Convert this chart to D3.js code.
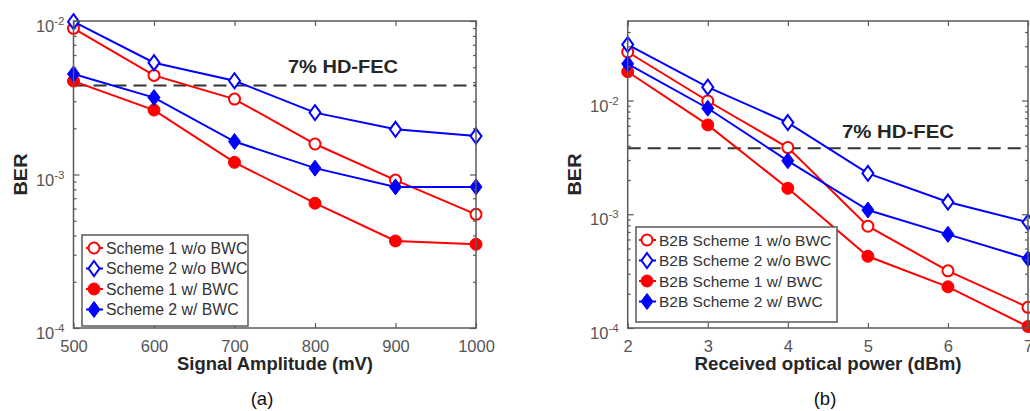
<!DOCTYPE html>
<html>
<head>
<meta charset="utf-8">
<script src="https://cdn.jsdelivr.net/npm/d3@7"></script>
<style>
  html, body { margin: 0; padding: 0; background: #fff; }
  svg { display: block; }
  text { font-family: "Liberation Sans", Arial, sans-serif; }
</style>
</head>
<body>
<svg id="fig" width="1030" height="411"></svg>
<script>
// ---- Panel (a): BER vs signal amplitude ----
const ampMV = [500, 600, 700, 800, 900, 1000];
const ampS1NoBWC = [8.96e-3, 4.42e-3, 3.1e-3, 1.58e-3, 9.2e-4, 5.5e-4];
const ampS2NoBWC = [9.9e-3, 5.35e-3, 4.08e-3, 2.53e-3, 1.97e-3, 1.78e-3];
const ampS1BWC   = [4.06e-3, 2.63e-3, 1.2e-3, 6.5e-4, 3.69e-4, 3.51e-4];
const ampS2BWC   = [4.52e-3, 3.17e-3, 1.64e-3, 1.1e-3, 8.3e-4, 8.3e-4];

// ---- Panel (b): BER vs received optical power ----
const powerDBm = [2, 3, 4, 5, 6, 7];
const b2bS1NoBWC = [2.67e-2, 9.9e-3, 3.86e-3, 7.85e-4, 3.18e-4, 1.52e-4];
const b2bS2NoBWC = [3.1e-2, 1.31e-2, 6.4e-3, 2.29e-3, 1.28e-3, 8.5e-4];
const b2bS1BWC   = [1.79e-2, 6.1e-3, 1.69e-3, 4.27e-4, 2.3e-4, 1.03e-4];
const b2bS2BWC   = [2.1e-2, 8.55e-3, 2.95e-3, 1.09e-3, 6.66e-4, 4.07e-4];

const fecThreshold = 3.8e-3;
const fecLabel = "7% HD-FEC";

const legendA = ["Scheme 1 w/o BWC", "Scheme 2 w/o BWC", "Scheme 1 w/ BWC", "Scheme 2 w/ BWC"];
const legendB = ["B2B Scheme 1 w/o BWC", "B2B Scheme 2 w/o BWC", "B2B Scheme 1 w/ BWC", "B2B Scheme 2 w/ BWC"];

const RED = "#ff0000", BLUE = "#0000ff", AXIS = "#5a5a5a", TICKTXT = "#555", TITLE = "#262626";

const svg = d3.select("#fig");

// marker drawing: open / filled circle or diamond
function drawMarker(g, kind, filled, color) {
  if (kind === "circle") {
    g.append("circle").attr("r", filled ? 6 : 5.5)
      .attr("fill", filled ? color : "#fff")
      .attr("stroke", color).attr("stroke-width", filled ? 1 : 2);
  } else {
    const w = filled ? 6 : 5.5, h = filled ? 8 : 7.5;
    g.append("path").attr("d", `M0,${-h}L${w},0L0,${h}L${-w},0Z`)
      .attr("fill", filled ? color : "#fff")
      .attr("stroke", color).attr("stroke-width", filled ? 1 : 2);
  }
}

// "10" with a superscript exponent for log-axis labels
function supLabel(sel) {
  sel.each(function(d) {
    const t = d3.select(this);
    const e = Math.round(Math.log10(d));
    t.text(null);
    t.append("tspan").text("10");
    t.append("tspan").attr("dy", -7).attr("font-size", 11.5).text(String(e));
  });
}

// stretch a text element horizontally by a factor of its natural width
function stretch(sel, f) {
  sel.each(function() {
    const w = this.getComputedTextLength();
    d3.select(this).attr("textLength", w * f).attr("lengthAdjust", "spacingAndGlyphs");
  });
}

function panel(opt) {
  const { x0, x1, y0, y1, xDomain, yDomain, xs, series, legendLabels, xTitle, caption,
          fecX, fecY, fecW, legendBox, legendX, legendFont, titleX, titleW, captionX } = opt;
  const x = d3.scaleLinear().domain(xDomain).range([x0, x1]);
  const y = d3.scaleLog().domain(yDomain).range([y1, y0]);
  const g = svg.append("g");

  // dashed FEC threshold
  g.append("line").attr("x1", x0).attr("x2", x1)
    .attr("y1", y(fecThreshold)).attr("y2", y(fecThreshold))
    .attr("stroke", "#333").attr("stroke-width", 2).attr("stroke-dasharray", "13,7");
  g.append("text").attr("x", fecX).attr("y", fecY)
    .attr("font-size", 17.5).attr("font-weight", "bold").attr("fill", TITLE)
    .attr("textLength", fecW).attr("lengthAdjust", "spacingAndGlyphs")
    .text(fecLabel);

  // series
  const line = d3.line().x((d, i) => x(xs[i])).y(d => y(d));
  series.forEach(s => {
    g.append("path").datum(s.values).attr("d", line)
      .attr("fill", "none").attr("stroke", s.color).attr("stroke-width", 2);
    s.values.forEach((v, i) => {
      const m = g.append("g").attr("transform", `translate(${x(xs[i])},${y(v)})`);
      drawMarker(m, s.kind, s.filled, s.color);
    });
  });

  // axes
  const majorY = [1e-4, 1e-3, 1e-2].filter(v => v >= yDomain[0] && v <= yDomain[1]);
  const minorY = [];
  for (let e = -4; e <= -2; e++) for (let k = 2; k <= 9; k++) {
    const v = k * Math.pow(10, e);
    if (v > yDomain[0] && v < yDomain[1]) minorY.push(v);
  }
  const styleAxis = a => {
    a.select(".domain").remove();
    a.selectAll(".tick line").attr("stroke", AXIS).attr("stroke-width", 1.2);
    a.selectAll(".tick text").attr("fill", TICKTXT).attr("font-size", 16.5)
      .attr("font-family", "Liberation Sans, Arial, sans-serif");
  };
  const xb = g.append("g").attr("transform", `translate(0,${y1})`)
    .call(d3.axisBottom(x).tickValues(xs).tickSizeInner(-5).tickSizeOuter(0).tickPadding(12).tickFormat(d3.format("d")));
  styleAxis(xb);
  const xt = g.append("g").attr("transform", `translate(0,${y0})`)
    .call(d3.axisTop(x).tickValues(xs).tickSizeInner(-5).tickSizeOuter(0).tickFormat(""));
  styleAxis(xt);
  const yl = g.append("g").attr("transform", `translate(${x0},0)`)
    .call(d3.axisLeft(y).tickValues(majorY).tickSizeInner(-6).tickSizeOuter(0).tickPadding(9));
  styleAxis(yl);
  yl.selectAll(".tick text").call(supLabel).attr("dy", "0.65em");
  const ylm = g.append("g").attr("transform", `translate(${x0},0)`)
    .call(d3.axisLeft(y).tickValues(minorY).tickSizeInner(-3).tickSizeOuter(0).tickFormat(""));
  styleAxis(ylm);
  const yr = g.append("g").attr("transform", `translate(${x1},0)`)
    .call(d3.axisRight(y).tickValues(majorY).tickSizeInner(-6).tickSizeOuter(0).tickFormat(""));
  styleAxis(yr);
  const yrm = g.append("g").attr("transform", `translate(${x1},0)`)
    .call(d3.axisRight(y).tickValues(minorY).tickSizeInner(-3).tickSizeOuter(0).tickFormat(""));
  styleAxis(yrm);

  // frame
  g.append("rect").attr("x", x0).attr("y", y0).attr("width", x1 - x0).attr("height", y1 - y0)
    .attr("fill", "none").attr("stroke", AXIS).attr("stroke-width", 1.5);

  // titles
  g.append("text").attr("x", titleX).attr("y", 370).attr("text-anchor", "middle")
    .attr("font-size", 18).attr("font-weight", "bold").attr("fill", TITLE)
    .attr("textLength", titleW).attr("lengthAdjust", "spacingAndGlyphs").text(xTitle);
  g.append("text").attr("transform", `translate(${x0 - 47},${(y0 + y1) / 2}) rotate(-90)`)
    .attr("text-anchor", "middle").attr("font-size", 18).attr("font-weight", "bold")
    .attr("textLength", 42).attr("lengthAdjust", "spacingAndGlyphs")
    .attr("fill", TITLE).text("BER");
  g.append("text").attr("x", captionX).attr("y", 405).attr("text-anchor", "middle")
    .attr("font-family", "Liberation Serif, Times New Roman, serif")
    .attr("font-size", 18.5).attr("fill", "#111").text(caption);

  // legend
  g.append("rect").attr("x", legendBox[0]).attr("y", legendBox[1])
    .attr("width", legendBox[2]).attr("height", legendBox[3])
    .attr("fill", "#fff").attr("stroke", AXIS).attr("stroke-width", 1.5);
  series.forEach((s, i) => {
    const ly = legendBox[1] + 13 + i * 20.5;
    g.append("line").attr("x1", legendX - 8).attr("x2", legendX + 9).attr("y1", ly).attr("y2", ly)
      .attr("stroke", s.color).attr("stroke-width", 2);
    const m = g.append("g").attr("transform", `translate(${legendX},${ly})`);
    drawMarker(m, s.kind, s.filled, s.color);
    g.append("text").attr("x", legendX + 12).attr("y", ly + 5.5)
      .attr("font-size", legendFont).attr("fill", "#333").text(legendLabels[i]);
  });
}

panel({
  x0: 73.5, x1: 476, y0: 21, y1: 328,
  xDomain: [500, 1000], yDomain: [1e-4, 1e-2], xs: ampMV,
  series: [
    { values: ampS1NoBWC, color: RED,  kind: "circle",  filled: false },
    { values: ampS2NoBWC, color: BLUE, kind: "diamond", filled: false },
    { values: ampS1BWC,   color: RED,  kind: "circle",  filled: true },
    { values: ampS2BWC,   color: BLUE, kind: "diamond", filled: true }
  ],
  legendLabels: legendA, xTitle: "Signal Amplitude (mV)", caption: "(a)",
  fecX: 288, fecY: 73, fecW: 110, legendBox: [82, 235, 166, 91], legendX: 94, legendFont: 15.8,
  titleX: 275, titleW: 196, captionX: 262
});

panel({
  x0: 627.7, x1: 1028, y0: 21, y1: 328,
  xDomain: [2, 7], yDomain: [1e-4, 0.05], xs: powerDBm,
  series: [
    { values: b2bS1NoBWC, color: RED,  kind: "circle",  filled: false },
    { values: b2bS2NoBWC, color: BLUE, kind: "diamond", filled: false },
    { values: b2bS1BWC,   color: RED,  kind: "circle",  filled: true },
    { values: b2bS2BWC,   color: BLUE, kind: "diamond", filled: true }
  ],
  legendLabels: legendB, xTitle: "Received optical power (dBm)", caption: "(b)",
  fecX: 842, fecY: 138, fecW: 112, legendBox: [636, 227, 201, 95], legendX: 647, legendFont: 15.5,
  titleX: 828, titleW: 267, captionX: 825
});
</script>
</body>
</html>
